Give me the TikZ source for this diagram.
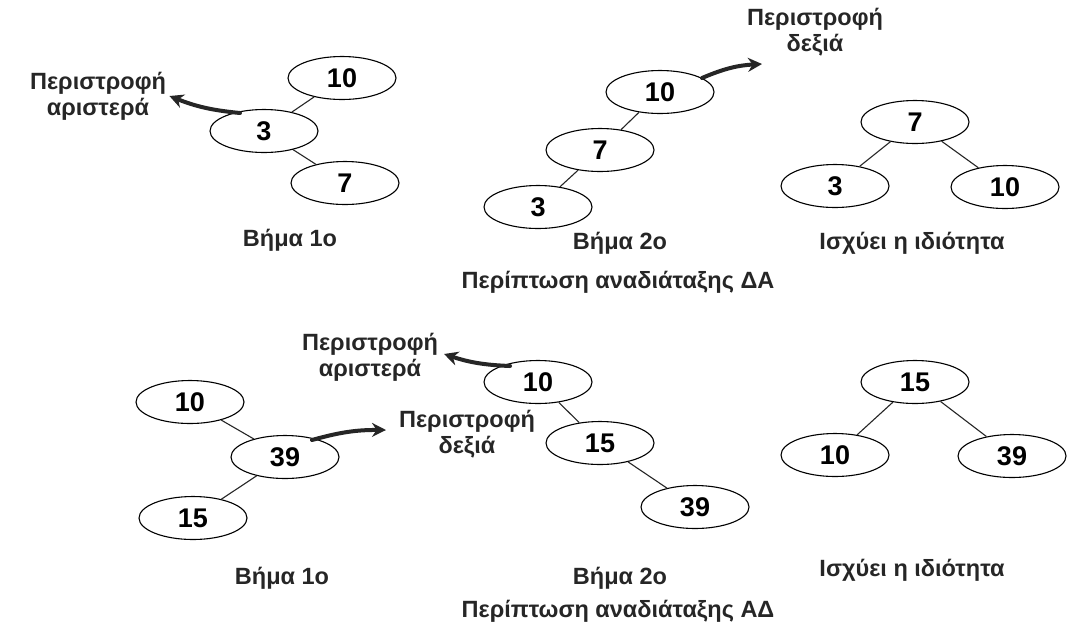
\documentclass[tikz,border=0pt]{standalone}
\usepackage{fontspec}
\setmainfont{Liberation Sans}
\usetikzlibrary{shapes.geometric,arrows.meta}
\tikzset{
  key/.style={ellipse, draw=black, line width=1.1pt, minimum width=108pt, minimum height=43pt, inner sep=0pt, font=\fontsize{27}{27}\selectfont\bfseries},
  edge/.style={draw=black!85, line width=1.1pt},
  caption/.style={font=\fontsize{23.5}{26}\selectfont\bfseries, text=black!85, align=center},
  rot/.style={line width=4pt, draw=black!85, -{Stealth[length=14pt,width=14pt]}, line cap=round}
}
\begin{document}
\begin{tikzpicture}[x=1pt,y=-1pt]
\useasboundingbox[fill=white] (0,0) rectangle (1078,630);

% ---- Case LL (right rotation after left rotation), upper row ----
\node[key] (a10) at (342,78) {10};
\node[key] (a3)  at (264,131) {3};
\node[key] (a7)  at (345,183) {7};
\draw[edge] (a10) -- (a3);
\draw[edge] (a3) -- (a7);
\node[caption] (rl1) at (98,96) {Περιστροφή\\αριστερά};
\coordinate (rl1s) at (240,113);
\draw[rot] (rl1s) to[bend left=8] (rl1.east);
\node[caption] at (290,240) {Βήμα 1ο};

\node[key] (b10) at (660,92) {10};
\node[key] (b7)  at (600,150) {7};
\node[key] (b3)  at (538,207) {3};
\draw[edge] (b10) -- (b7);
\draw[edge] (b7) -- (b3);
\node[caption] (rr1) at (815,32) {Περιστροφή\\δεξιά};
\coordinate (rr1s) at (702,78);
\draw[rot] (rr1s) to[bend left=10] (762,64);
\node[caption] at (620,243) {Βήμα 2ο};
\node[caption] at (618,282) {Περίπτωση αναδιάταξης ΔΑ};

\node[key] (c7)  at (915,122) {7};
\node[key] (c3)  at (835,186) {3};
\node[key] (c10) at (1005,187) {10};
\draw[edge] (c7) -- (c3);
\draw[edge] (c7) -- (c10);
\node[caption] at (912,243) {Ισχύει η ιδιότητα};

% ---- Case RL, lower row ----
\node[key] (d10) at (190,402) {10};
\node[key] (d39) at (285,457) {39};
\node[key] (d15) at (193,518) {15};
\draw[edge] (d10) -- (d39);
\draw[edge] (d39) -- (d15);
\node[caption] (rr2) at (467,434) {Περιστροφή\\δεξιά};
\coordinate (rr2s) at (312,440);
\draw[rot] (rr2s) to[bend left=8] (386,430);
\node[caption] at (282,578) {Βήμα 1ο};

\node[key] (e10) at (538,382) {10};
\node[key] (e15) at (600,443) {15};
\node[key] (e39) at (695,507) {39};
\draw[edge] (e10) -- (e15);
\draw[edge] (e15) -- (e39);
\node[caption] (rl2) at (370,357) {Περιστροφή\\αριστερά};
\coordinate (rl2s) at (510,366);
\draw[rot] (rl2s) to[bend left=8] (444,354);
\node[caption] at (620,578) {Βήμα 2ο};
\node[caption] at (618,611) {Περίπτωση αναδιάταξης ΑΔ};

\node[key] (f15) at (915,382) {15};
\node[key] (f10) at (835,455) {10};
\node[key] (f39) at (1012,456) {39};
\draw[edge] (f15) -- (f10);
\draw[edge] (f15) -- (f39);
\node[caption] at (912,570) {Ισχύει η ιδιότητα};
\end{tikzpicture}
\end{document}
